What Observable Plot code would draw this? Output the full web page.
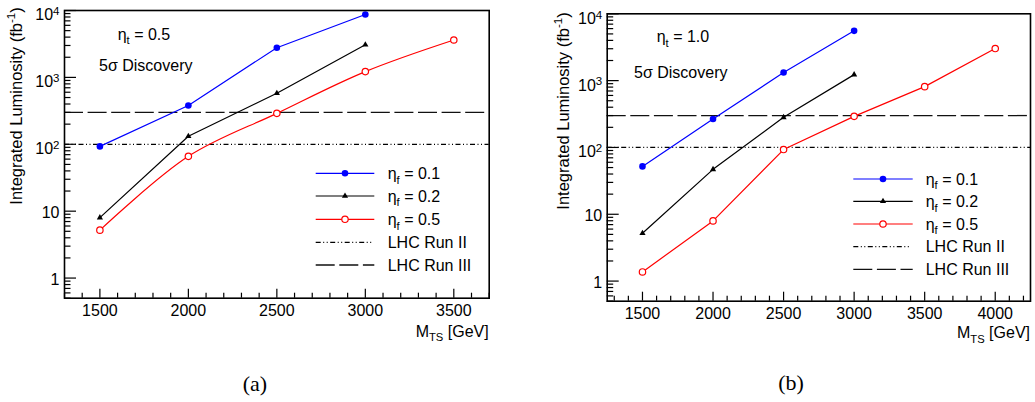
<!DOCTYPE html>
<html><head><meta charset="utf-8">
<script src="https://cdn.jsdelivr.net/npm/d3@7"></script>
<script src="https://cdn.jsdelivr.net/npm/@observablehq/plot@0.6"></script>
<style>
body{margin:0;background:#fff;}
#wrap{position:relative;width:1035px;height:402px;overflow:hidden;font-family:"Liberation Sans",Arial,sans-serif;}
#wrap > .pane{position:absolute;top:0;}
#overlay{position:absolute;left:0;top:0;pointer-events:none;}
</style></head><body><div id="wrap"></div>
<script>
// ---------- data ----------
const massA = [1500, 2000, 2500, 3000];
const massARed = [1500, 2000, 2500, 3000, 3500];
const lumiA_eta01 = [93, 380, 2780, 8700];
const lumiA_eta02 = [8.0, 132, 580, 3080];
const lumiA_eta05 = [5.2, 66, 290, 1220, 3620];

const massB = [1500, 2000, 2500, 3000];
const massBRed = [1500, 2000, 2500, 3000, 3500, 4000];
const lumiB_eta01 = [52, 267, 1320, 5560];
const lumiB_eta02 = [5.2, 47, 282, 1230];
const lumiB_eta05 = [1.37, 7.95, 93, 292, 813, 3020];

const runII = 100;
const runIII = 300;

const xTicksA = [1500, 2000, 2500, 3000, 3500];
const xTicksB = [1500, 2000, 2500, 3000, 3500, 4000];
const yTicks = [1, 10, 100, 1000, 10000];
const seriesNames = ["η_f = 0.1", "η_f = 0.2", "η_f = 0.5"];
const refNames = ["LHC Run II", "LHC Run III"];

// ---------- helpers ----------
const BLUE = "#0000ff", RED = "#ff0000", BLACK = "#000000";
const DASH_II = "5,2.5,1,2.5,1,2.5";
const DASH_III = "19,4.6";

function rows(xs, ys) { return xs.map((x, i) => ({x, y: ys[i]})); }
function minorX(lo, hi) { const a = []; for (let v = Math.ceil(lo/100)*100; v <= hi; v += 100) if (v % 500) a.push(v); return a; }
function minorY() { const a = []; for (const d of [0.1, 1, 10, 100, 1000]) for (let k = 2; k <= 9; k++) { const v = +(k*d).toPrecision(3); if (v >= 0.5 && v < 10000) a.push(v); } return a; }
const fmtY = d => d >= 100 ? "10^" + Math.round(Math.log10(d)) : String(d);

function panel({s1, s2, s3, xDomain, xTicks, width, margin, smoothRed}) {
  const marks = [
    Plot.ruleY([runII], {stroke: BLACK, strokeWidth: 1.2, strokeDasharray: DASH_II}),
    Plot.ruleY([runIII], {stroke: "#111", strokeWidth: 1.3, strokeDasharray: DASH_III}),
    Plot.line(s1, {x: "x", y: "y", stroke: BLUE, strokeWidth: 1.2}),
    Plot.line(s2, {x: "x", y: "y", stroke: BLACK, strokeWidth: 1.2}),
    Plot.line(s3, {x: "x", y: "y", stroke: RED, strokeWidth: 1.2, curve: smoothRed ? "catmull-rom" : "linear"}),
    Plot.dot(s1, {x: "x", y: "y", r: 3.3, fill: BLUE, stroke: "none"}),
    Plot.dot(s2, {x: "x", y: "y", r: 2.3, symbol: "triangle", fill: BLACK, stroke: "none"}),
    Plot.dot(s3, {x: "x", y: "y", r: 3.2, fill: "white", stroke: RED, strokeWidth: 1.2}),
    Plot.frame({stroke: BLACK, strokeWidth: 1.6}),
    Plot.axisY(yTicks, {anchor: "left", tickSize: 0, tickPadding: 5, tickFormat: fmtY, fontSize: 16, label: null}),
    Plot.axisY(yTicks, {anchor: "left", tickSize: -12, tickFormat: () => "", label: null, strokeWidth: 1.2}),
    Plot.axisY(minorY(), {anchor: "left", tickSize: -6.5, tickFormat: () => "", label: null, strokeWidth: 1.2}),
    Plot.axisX(xTicks, {anchor: "bottom", tickSize: 0, tickPadding: 6, tickFormat: d => String(d), fontSize: 16, label: null}),
    Plot.axisX(xTicks, {anchor: "bottom", tickSize: -9, tickFormat: () => "", label: null, strokeWidth: 1.2}),
    Plot.axisX(minorX(xDomain[0], xDomain[1]), {anchor: "bottom", tickSize: -5, tickFormat: () => "", label: null, strokeWidth: 1.2})
  ];
  const svg = Plot.plot({
    width, height: 402,
    marginLeft: margin[0], marginRight: margin[1], marginTop: margin[2], marginBottom: margin[3],
    x: {type: "linear", domain: xDomain},
    y: {type: "log", domain: [0.5, 10000]},
    style: {fontFamily: "Liberation Sans, Arial, sans-serif", fontSize: "16px", color: "#000", background: "transparent", overflow: "visible"},
    marks
  });
  d3.select(svg).selectAll('g[aria-label="y-axis tick label"] text').each(function() {
    const t = this.textContent;
    if (t.includes("^")) {
      const [b, e] = t.split("^");
      this.textContent = b;
      d3.select(this).attr("y", "0.62em");
      d3.select(this).append("tspan").attr("dy", "-0.45em").attr("font-size", "0.72em").text(e);
    } else if (t !== "") {
      d3.select(this).attr("y", "0.42em");
    }
  });
  return svg;
}

const wrap = document.getElementById("wrap");
const pa = panel({
  s1: rows(massA, lumiA_eta01), s2: rows(massA, lumiA_eta02), s3: rows(massARed, lumiA_eta05),
  xDomain: [1300, 3700], xTicks: xTicksA, width: 510, margin: [64, 21.3, 10, 104.3], smoothRed: true
});
const pb = panel({
  s1: rows(massB, lumiB_eta01), s2: rows(massB, lumiB_eta02), s3: rows(massBRed, lumiB_eta05),
  xDomain: [1250, 4250], xTicks: xTicksB, width: 525, margin: [96.7, 5, 13.3, 101.3], smoothRed: false
});
const da = document.createElement("div"); da.className = "pane"; da.style.left = "0px"; da.appendChild(pa); wrap.appendChild(da);
const db = document.createElement("div"); db.className = "pane"; db.style.left = "510px"; db.appendChild(pb); wrap.appendChild(db);

// ---------- overlay: titles, annotations, legends, captions ----------
const ov = d3.select(wrap).append("svg").attr("id", "overlay").attr("width", 1035).attr("height", 402)
  .attr("font-family", "Liberation Sans, Arial, sans-serif");

function rich(g, x, y, str, size, anchor) {
  const t = g.append("text").attr("x", x).attr("y", y).attr("font-size", size).attr("text-anchor", anchor || "start").attr("fill", "#000");
  const re = /([_^])\{([^}]*)\}|([^_^]+)/g; let m; let shift = 0;
  while ((m = re.exec(str))) {
    if (m[3]) { const sp = t.append("tspan").text(m[3]); if (shift) { sp.attr("dy", -shift + "em"); shift = 0; } }
    else {
      const d = m[1] === "_" ? 0.3 : -0.42;
      const sp = t.append("tspan").attr("font-size", "0.7em").text(m[2]);
      sp.attr("dy", (d / 0.7) + "em"); shift = d;
    }
  }
  return t;
}
function legend(x1, x2, xt, ys) {
  const g = ov.append("g");
  const cols = [BLUE, BLACK, RED];
  const xm = (x1 + x2) / 2;
  seriesNames.forEach((n, i) => {
    g.append("line").attr("x1", x1).attr("x2", x2).attr("y1", ys[i]).attr("y2", ys[i]).attr("stroke", cols[i]).attr("stroke-width", 1.2);
    if (i === 0) g.append("circle").attr("cx", xm).attr("cy", ys[i]).attr("r", 3.3).attr("fill", BLUE);
    if (i === 1) g.append("path").attr("d", d3.symbol(d3.symbolTriangle, Math.PI * 2.3 * 2.3)()).attr("transform", `translate(${xm},${ys[i]})`).attr("fill", BLACK);
    if (i === 2) g.append("circle").attr("cx", xm).attr("cy", ys[i]).attr("r", 3.2).attr("fill", "white").attr("stroke", RED).attr("stroke-width", 1.2);
    rich(g, xt, ys[i] + 5.5, n.replace("_f", "_{f}"), 16);
  });
  g.append("line").attr("x1", x1).attr("x2", x2 - 2).attr("y1", ys[3]).attr("y2", ys[3]).attr("stroke", BLACK).attr("stroke-width", 1.2).attr("stroke-dasharray", DASH_II);
  g.append("line").attr("x1", x1).attr("x2", x2).attr("y1", ys[4]).attr("y2", ys[4]).attr("stroke", "#111").attr("stroke-width", 1.3).attr("stroke-dasharray", DASH_III);
  rich(g, xt, ys[3] + 5.5, refNames[0], 16);
  rich(g, xt, ys[4] + 5.5, refNames[1], 16);
}
legend(315.7, 374.3, 387.7, [173.3, 196, 219.3, 242.3, 265]);
legend(853.3, 912.7, 925.7, [179, 201.3, 224, 246.7, 269.3]);

// annotations
rich(ov, 117.7, 39.5, "η_{t} = 0.5", 16);
rich(ov, 99, 71, "5σ Discovery", 16);
rich(ov, 656.7, 42, "η_{t} = 1.0", 16);
rich(ov, 634, 77.5, "5σ Discovery", 16);

// axis titles
rich(ov, 488.7, 336.5, "M_{TS} [GeV]", 16, "end");
rich(ov, 1030, 338.3, "M_{TS} [GeV]", 16, "end");
rich(ov, 0, 0, "Integrated Luminosity (fb^{-1})", 16.5, "middle").attr("transform", "translate(22,106) rotate(-90)");
rich(ov, 0, 0, "Integrated Luminosity (fb^{-1})", 16.5, "middle").attr("transform", "translate(568.5,111) rotate(-90)");

// captions
ov.append("text").attr("x", 255).attr("y", 391).attr("text-anchor", "middle").attr("font-family", "Liberation Serif, Times New Roman, serif").attr("font-size", 22).text("(a)");
ov.append("text").attr("x", 791).attr("y", 390).attr("text-anchor", "middle").attr("font-family", "Liberation Serif, Times New Roman, serif").attr("font-size", 22).text("(b)");
</script></body></html>
